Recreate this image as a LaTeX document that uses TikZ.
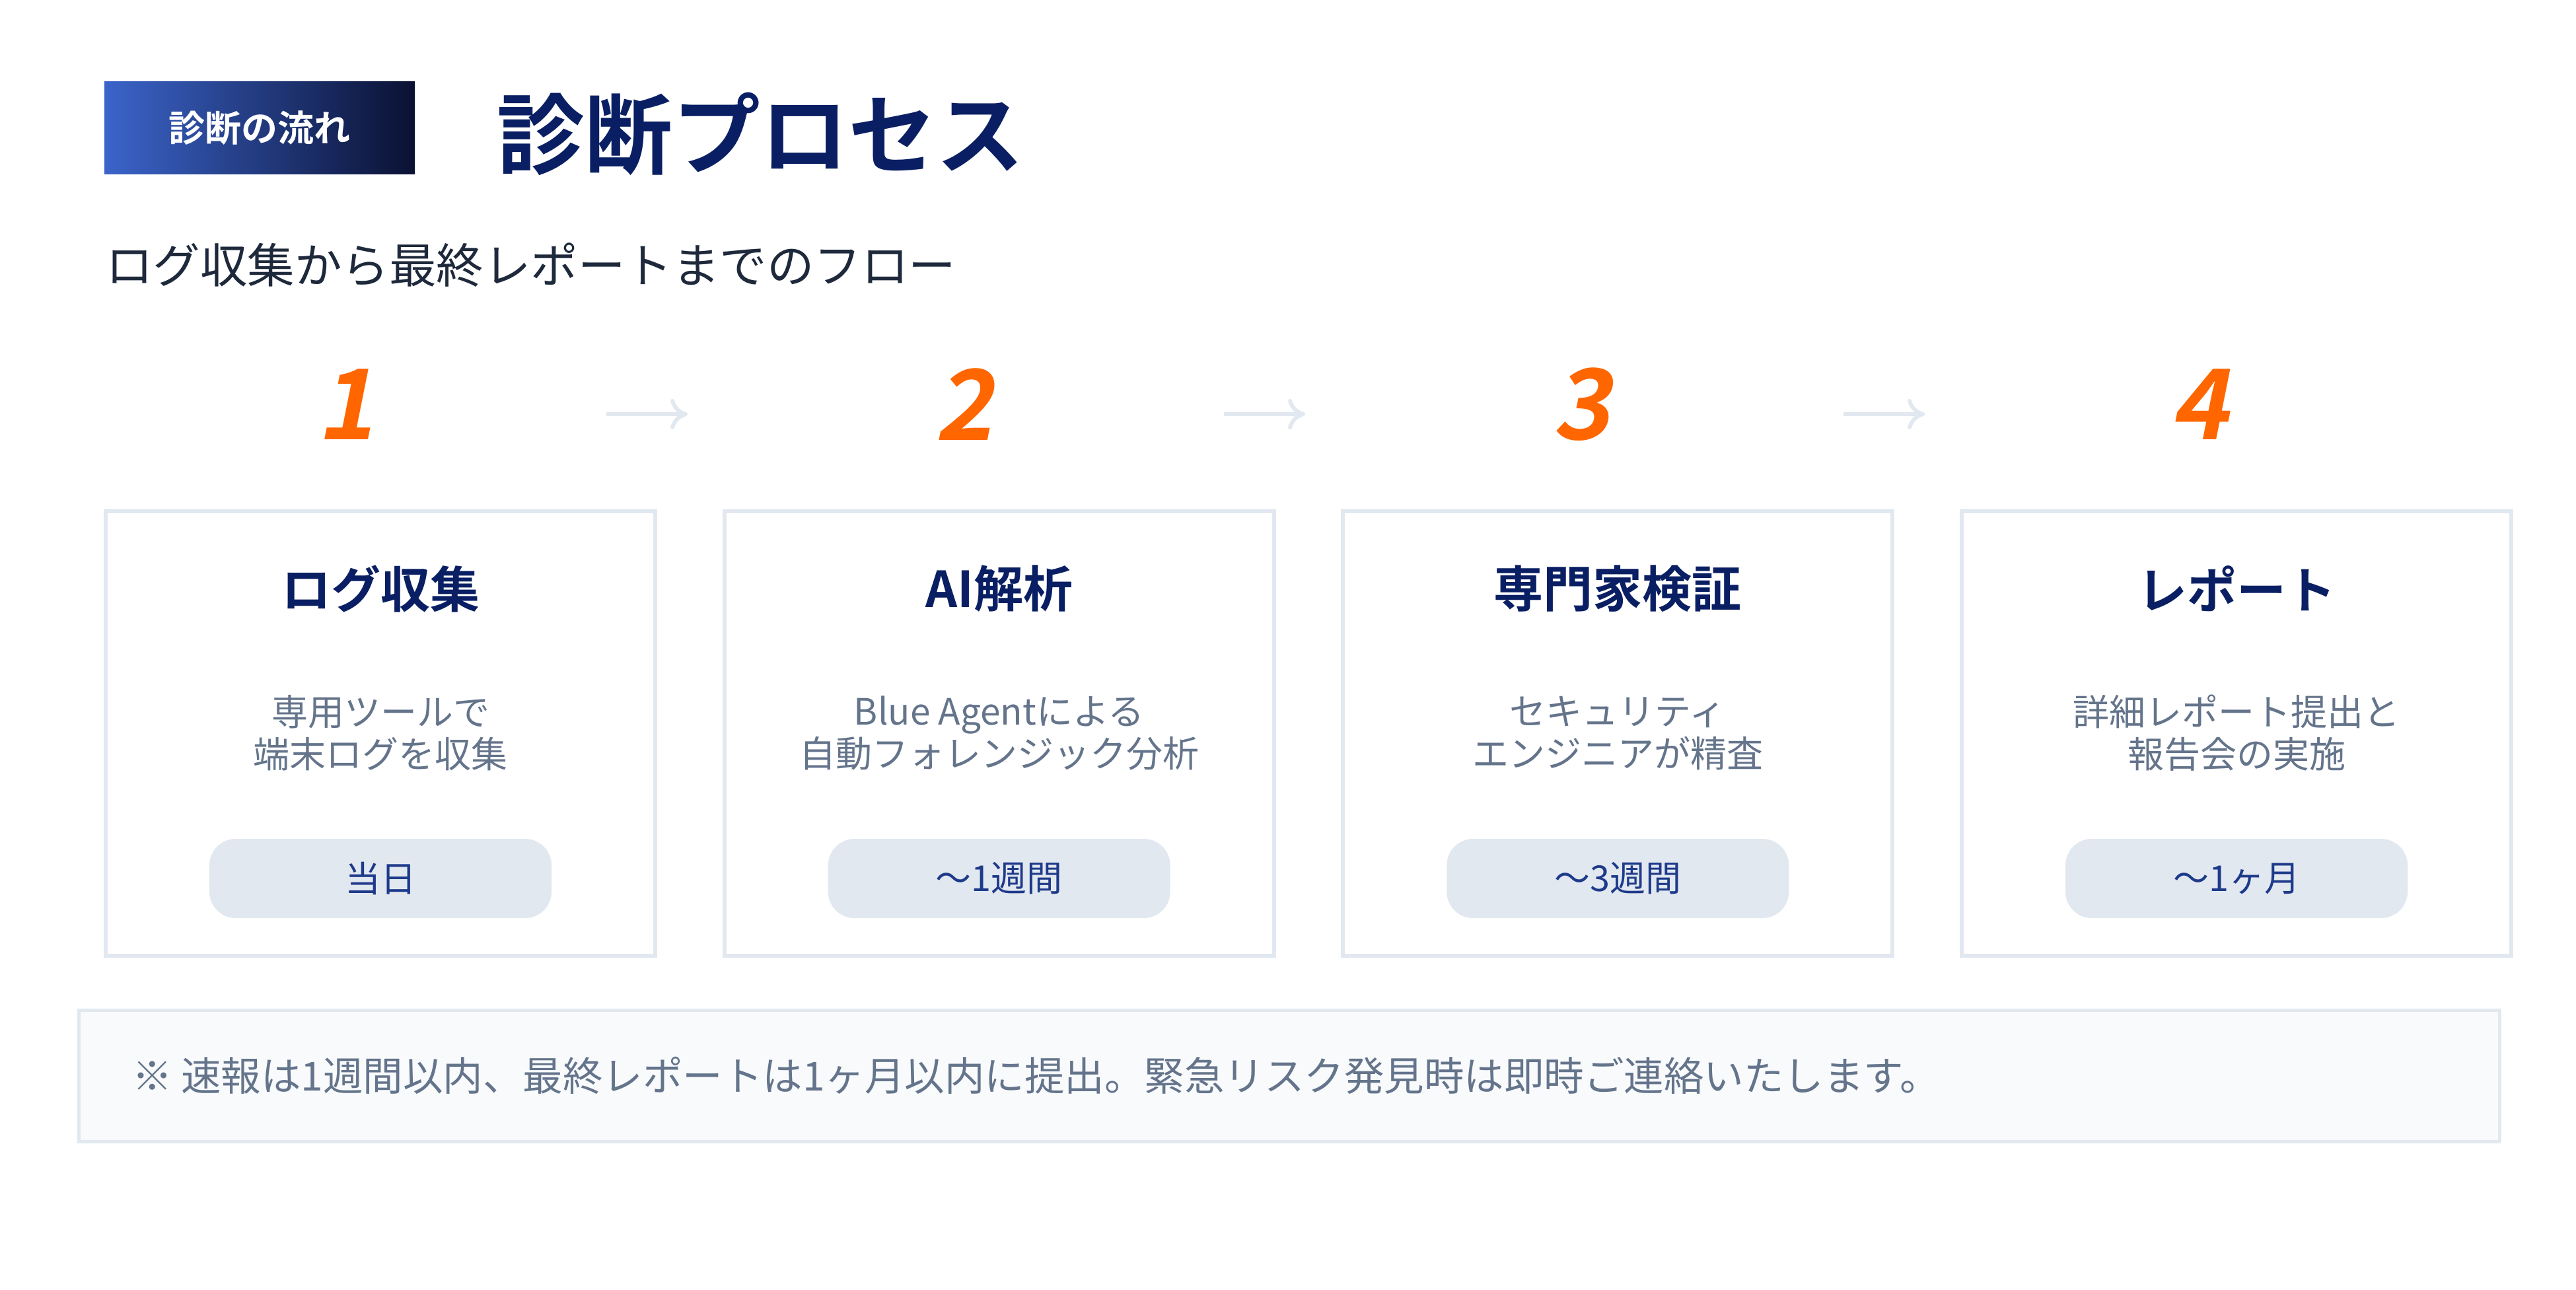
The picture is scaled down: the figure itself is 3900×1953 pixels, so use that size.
\documentclass[tikz,border=0pt]{standalone}
\usepackage{fontspec}
\usetikzlibrary{arrows.meta}
\newfontfamily\jp{Noto Sans CJK JP}
\newfontfamily\jpbold{Noto Sans CJK JP Bold}
\newfontfamily\numfont[FakeSlant=0.2]{Noto Sans CJK JP Bold}
\definecolor{navy}{HTML}{0A1F63}
\definecolor{subtext}{HTML}{1E293B}
\definecolor{desctext}{HTML}{64748B}
\definecolor{pilltext}{HTML}{1E3A8A}
\definecolor{lightline}{HTML}{E2E8F0}
\definecolor{notefill}{HTML}{F8FAFC}
\definecolor{accent}{HTML}{FF6600}
\definecolor{tagleft}{HTML}{3B64CA}
\definecolor{tagright}{HTML}{0A1133}
\begin{document}
\begin{tikzpicture}[x=1pt,y=-1pt,
  tagbox/.style={rectangle, minimum width=470pt, minimum height=140pt, inner sep=0pt,
     left color=tagleft, right color=tagright, text=white,
     font=\jpbold\fontsize{55}{60}\selectfont},
  titletext/.style={anchor=west, inner sep=0pt, text=navy, font=\jpbold\fontsize{133}{133}\selectfont},
  subtitletext/.style={anchor=west, inner sep=0pt, text=subtext, font=\jp\fontsize{71.5}{71.5}\selectfont},
  numtext/.style={inner sep=0pt, text=accent, font=\numfont\fontsize{148}{148}\selectfont},
  flowarrow/.style={draw=lightline, line width=6pt, -{To[length=26pt,width=46pt]}},
  stepcard/.style={rectangle, draw=lightline, line width=6pt, fill=white,
     minimum width=832pt, minimum height=673pt, inner sep=0pt},
  cardtitle/.style={inner sep=0pt, text=navy, font=\jpbold\fontsize{75}{75}\selectfont},
  carddesc/.style={inner sep=0pt, align=center, text=desctext, font=\jp\fontsize{55}{64}\selectfont},
  pill/.style={rectangle, rounded corners=40pt, fill=lightline, minimum width=518pt,
     minimum height=120pt, inner sep=0pt, text=pilltext, font=\jp\fontsize{54}{54}\selectfont},
  notebox/.style={rectangle, draw=lightline, line width=5pt, fill=notefill,
     minimum width=3665pt, minimum height=199pt, inner sep=0pt},
  notetext/.style={anchor=west, inner sep=0pt, text=desctext, font=\jp\fontsize{60.5}{60.5}\selectfont}
]
\useasboundingbox (0,0) rectangle (3900,1953);
\fill[white] (0,0) rectangle (3900,1953);

% header
\node[tagbox] (tag) at (393,194) {診断の流れ};
\node[titletext] (title) at (752,203) {診断プロセス};
\node[subtitletext] (subtitle) at (160,401) {ログ収集から最終レポートまでのフロー};

% step numbers
\node[numtext] (n1) at (523,612) {1};
\node[numtext] (n2) at (1459,612) {2};
\node[numtext] (n3) at (2394,612) {3};
\node[numtext] (n4) at (3329,612) {4};

% arrows between numbers
\coordinate (a1s) at (918,627);  \coordinate (a1e) at (1041,627);
\coordinate (a2s) at (1853,627); \coordinate (a2e) at (1976,627);
\coordinate (a3s) at (2791,627); \coordinate (a3e) at (2914,627);
\draw[flowarrow] (a1s) -- (a1e);
\draw[flowarrow] (a2s) -- (a2e);
\draw[flowarrow] (a3s) -- (a3e);

% cards
\node[stepcard] (b1) at (576,1110.5) {};
\node[stepcard] (b2) at (1512.7,1110.5) {};
\node[stepcard] (b3) at (2449.3,1110.5) {};
\node[stepcard] (b4) at (3386,1110.5) {};

\node[cardtitle] (t1) at (576,891) {ログ収集};
\node[cardtitle] (t2) at (1512.7,891) {AI解析};
\node[cardtitle] (t3) at (2449.3,891) {専門家検証};
\node[cardtitle] (t4) at (3386,891) {レポート};

\node[carddesc] (d1) at (576,1110) {専用ツールで\\端末ログを収集};
\node[carddesc] (d2) at (1512.7,1110) {Blue Agentによる\\自動フォレンジック分析};
\node[carddesc] (d3) at (2449.3,1110) {セキュリティ\\エンジニアが精査};
\node[carddesc] (d4) at (3386,1110) {詳細レポート提出と\\報告会の実施};

\node[pill] (p1) at (576,1330) {当日};
\node[pill] (p2) at (1512.7,1330) {～1週間};
\node[pill] (p3) at (2449.3,1330) {～3週間};
\node[pill] (p4) at (3386,1330) {～1ヶ月};

% note
\node[notebox] (note) at (1952,1629) {};
\node[notetext] (notetxt) at (200,1628) {※ 速報は1週間以内、最終レポートは1ヶ月以内に提出。緊急リスク発見時は即時ご連絡いたします。};
\end{tikzpicture}
\end{document}
